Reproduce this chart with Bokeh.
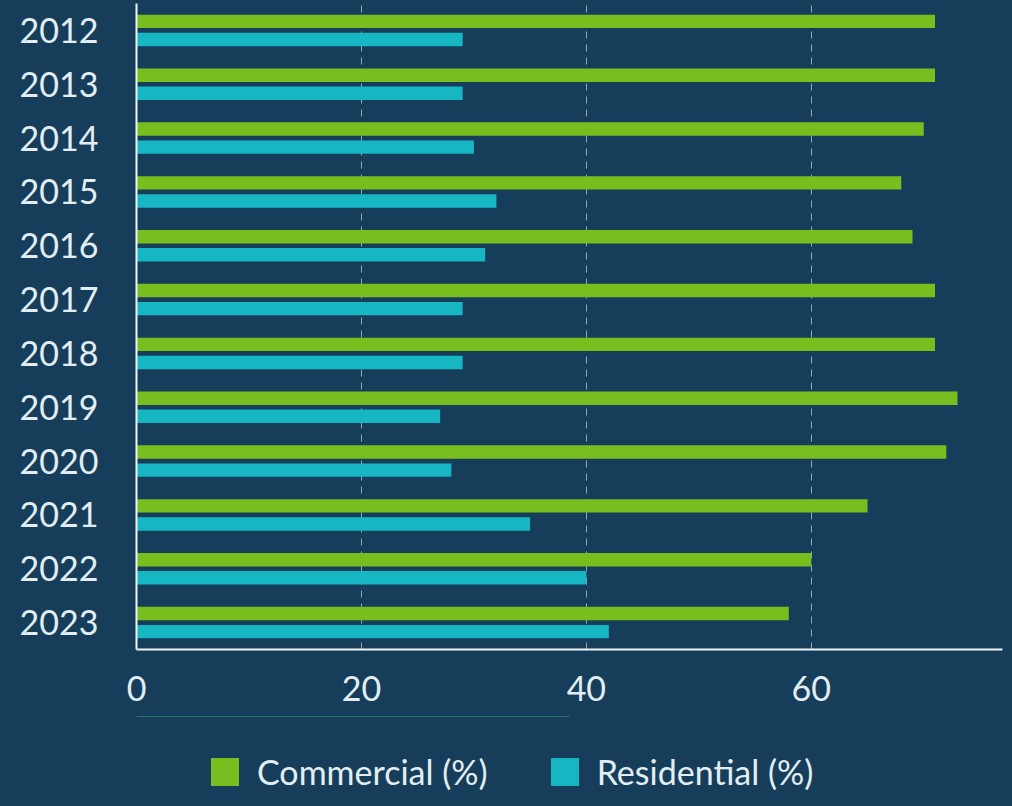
from bokeh.plotting import figure
from bokeh.layouts import column
from bokeh.models import ColumnDataSource, FactorRange, Range1d, Legend, LegendItem, FixedTicker
from bokeh.transform import dodge
from bokeh.embed import file_html
from bokeh.resources import INLINE

years = ["2012", "2013", "2014", "2015", "2016", "2017", "2018", "2019", "2020", "2021", "2022", "2023"]
commercial = [71, 71, 70, 68, 69, 71, 71, 73, 72, 65, 60, 58]
residential = [29, 29, 30, 32, 31, 29, 29, 27, 28, 35, 40, 42]
series_labels = ["Commercial (%)", "Residential (%)"]
x_ticks = [0, 20, 40, 60]

BG = "#163e5b"
GREEN = "#78be1e"
CYAN = "#16b6c3"
TEXT = "#e2eef2"
FONT = "Lato"

src = ColumnDataSource(dict(year=years, commercial=commercial, residential=residential))

chart = figure(
    width=1012, height=716,
    y_range=FactorRange(*reversed(years), range_padding=0),
    x_range=Range1d(0, 77),
    output_backend="svg", toolbar_location=None,
    min_border_left=136, min_border_right=10, min_border_top=3, min_border_bottom=67,
    background_fill_color=BG, border_fill_color=BG, outline_line_color=None,
)

r1 = chart.hbar(y=dodge("year", 0.168, range=chart.y_range), right="commercial", left=0, height=0.25,
                source=src, fill_color=GREEN, line_color=None)
r2 = chart.hbar(y=dodge("year", -0.168, range=chart.y_range), right="residential", left=0, height=0.25,
                source=src, fill_color=CYAN, line_color=None)

chart.ygrid.grid_line_color = None
chart.xgrid.ticker = FixedTicker(ticks=x_ticks)
chart.xgrid.grid_line_color = "#c8d6e0"
chart.xgrid.grid_line_alpha = 0.7
chart.xgrid.grid_line_dash = "7 6"
chart.xgrid.grid_line_width = 1

chart.xaxis.ticker = FixedTicker(ticks=x_ticks)
for ax in (chart.xaxis[0], chart.yaxis[0]):
    ax.axis_line_color = "#f0f4f6"
    ax.axis_line_width = 2
    ax.major_tick_line_color = None
    ax.minor_tick_line_color = None
    ax.major_tick_out = 0
    ax.major_tick_in = 0
    ax.major_label_text_color = TEXT
    ax.major_label_text_font = FONT
    ax.major_label_text_font_size = "34px"
chart.xaxis.major_label_standoff = 26
chart.yaxis.major_label_standoff = 38

# legend strip below the chart
leg = figure(
    width=1012, height=90, x_range=Range1d(0, 1), y_range=Range1d(0, 1),
    x_axis_type=None, y_axis_type=None,
    output_backend="svg", toolbar_location=None,
    min_border_left=0, min_border_right=0, min_border_top=0, min_border_bottom=0,
    background_fill_color=BG, border_fill_color=BG, outline_line_color=None,
)
leg.xgrid.visible = False
leg.ygrid.visible = False
# legend proxies, placed far outside the visible range of the strip
proxy = ColumnDataSource(dict(y=[1000], right=[0.5]))
g1 = leg.hbar(y="y", right="right", height=0.1, source=proxy, fill_color=GREEN, line_color=None)
g2 = leg.hbar(y="y", right="right", height=0.1, source=proxy, fill_color=CYAN, line_color=None)

legend = Legend(
    items=[LegendItem(label=series_labels[0], renderers=[g1]),
           LegendItem(label=series_labels[1], renderers=[g2])],
    orientation="horizontal", location=(71, 14),
    background_fill_alpha=0, border_line_color=None,
    label_text_color=TEXT, label_text_font=FONT, label_text_font_size="34px",
    glyph_width=35, glyph_height=35, spacing=59, label_standoff=15,
    margin=0, padding=0,
)
leg.add_layout(legend, "center")

p = column(chart, leg, spacing=0)

html = file_html(p, INLINE)
html = html.replace("</head>", "<style>html,body{background:#163e5b;}</style></head>", 1)
open("out.html", "w").write(html)
